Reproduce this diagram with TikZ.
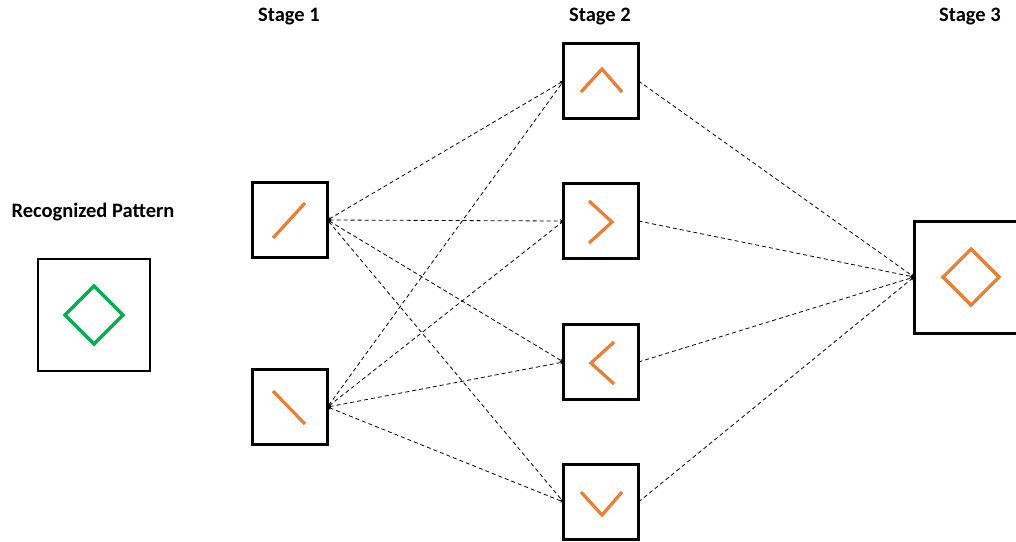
\documentclass[tikz,border=0pt]{standalone}
\usepackage{fontspec}
\setmainfont{Carlito}
\usetikzlibrary{arrows.meta}
\definecolor{pporange}{HTML}{ED7D31}
\definecolor{ppgreen}{HTML}{00B050}
\tikzset{
  cell/.style={draw=black, line width=3pt, fill=white, minimum width=#1, minimum height=#1, inner sep=0pt, outer sep=0pt},
  cell/.default=75pt,
  glyph/.style={draw=pporange, line width=3.2pt},
  conn/.style={draw=black, line width=0.8pt, dash pattern=on 4pt off 3pt},
  tiptwo/.style={conn, {Stealth[length=3.5pt,width=3.5pt]}-{Stealth[length=3.5pt,width=3.5pt]}},
  tipone/.style={conn, -{Stealth[length=3.5pt,width=3.5pt]}},
  lbl/.style={font=\bfseries\fontsize{20.5}{24}\selectfont, inner sep=0pt}
}
\begin{document}
\begin{tikzpicture}[x=1pt,y=-1pt]
\useasboundingbox (0,0) rectangle (1016,541);
\clip (0,0) rectangle (1016,541);
% labels
\node[lbl] (lrec) at (93,212) {Recognized Pattern};
\node[lbl] (ls1) at (289,17) {Stage 1};
\node[lbl] (ls2) at (600,17) {Stage 2};
\node[lbl] (ls3) at (970,17) {Stage 3};
% boxes
\node[cell=112pt, line width=2.6pt] (rec) at (94,315) {};
\node[cell] (a1) at (290,220) {};
\node[cell] (a2) at (290,407) {};
\node[cell] (b1) at (601,81) {};
\node[cell] (b2) at (601,221) {};
\node[cell] (b3) at (601,362) {};
\node[cell] (b4) at (601,502) {};
\node[cell=112pt] (c1) at (970,277) {};
% connectors
\foreach \s in {a1,a2}{
  \foreach \t in {b1,b2,b3,b4}{
    \draw[tiptwo] (\s.east) -- (\t.west);
  }
}
\foreach \t in {b1,b2,b3,b4}{
  \draw[tipone] (\t.east) -- (c1.west);
}
% glyphs
\draw[draw=ppgreen, line width=3.2pt] (94,286) -- (123,315) -- (94,344) -- (65,315) -- cycle;
\draw[glyph] (273,238) -- (305,203);
\draw[glyph] (273,391) -- (305,424);
\draw[glyph] (581,92) -- (602,69) -- (622,92);
\draw[glyph] (589,201) -- (612,222) -- (589,243);
\draw[glyph] (614,342) -- (591,363) -- (614,384);
\draw[glyph] (581,492) -- (602,515) -- (622,492);
\draw[glyph] (971,249) -- (999,277) -- (971,305) -- (943,277) -- cycle;
\end{tikzpicture}
\end{document}
